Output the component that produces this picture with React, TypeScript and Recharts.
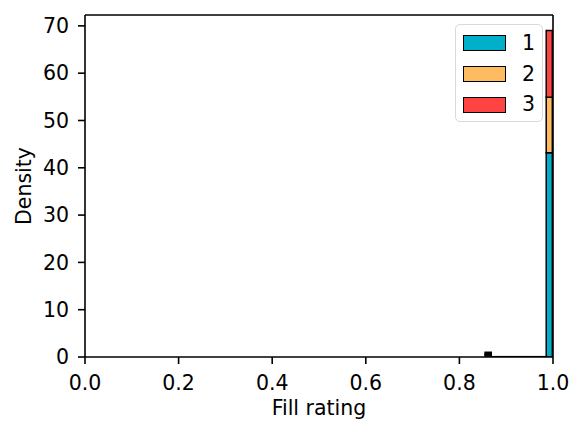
import { Bar, BarChart, ReferenceLine, XAxis, YAxis } from "recharts";

// histogram bins (centres), 10 bins between 0.855 and 1.0
const binCenters = [
  0.86225, 0.87675, 0.89125, 0.90575, 0.92025, 0.93475, 0.94925, 0.96375,
  0.97825, 0.99275,
];
const series1 = [0.4, 0.03, 0.03, 0.03, 0.03, 0.03, 0.03, 0.03, 0.03, 43.2];
const series2 = [0.3, 0.02, 0.02, 0.02, 0.02, 0.02, 0.02, 0.02, 0.02, 11.7];
const series3 = [0.3, 0.02, 0.02, 0.02, 0.02, 0.02, 0.02, 0.02, 0.02, 14.1];

const seriesNames = ["1", "2", "3"];
const xTicks = [0, 0.2, 0.4, 0.6, 0.8, 1.0];
const yTicks = [0, 10, 20, 30, 40, 50, 60, 70];
const Y_MAX = 72.3;

const COLORS = ["#00b0ca", "#ffbb5f", "#ff4242"];
const FONT = "DejaVu Sans";
const FS = 20.5;

const data = binCenters.map((x, i) => ({
  x,
  s1: series1[i],
  s2: series2[i],
  s3: series3[i],
}));

function HistLegend() {
  return (
    <div
      style={{
        position: "absolute",
        left: 455,
        top: 24,
        width: 88,
        height: 98,
        border: "1.5px solid #d9d9d9",
        borderRadius: 5,
        background: "rgba(255,255,255,0.8)",
        boxSizing: "border-box",
        paddingTop: 3,
      }}
    >
      {seriesNames.map((name, i) => (
        <div
          key={name}
          style={{ display: "flex", alignItems: "center", height: 30.7 }}
        >
          <div
            style={{
              marginLeft: 7,
              width: 43,
              height: 16,
              background: COLORS[i],
              border: "1.6px solid #000",
              boxSizing: "border-box",
            }}
          />
          <span
            style={{
              marginLeft: 16,
              fontFamily: FONT,
              fontSize: FS,
              lineHeight: 1,
              color: "#000",
            }}
          >
            {name}
          </span>
        </div>
      ))}
    </div>
  );
}

export default function App() {
  const axisLine = { stroke: "#000", strokeWidth: 1.6 };
  const tick = { fill: "#000", fontSize: FS, fontFamily: FONT };
  return (
    <div
      style={{
        position: "absolute",
        left: 0,
        top: 0,
        width: 585,
        height: 435,
        background: "#fff",
      }}
    >
      <BarChart
        width={585}
        height={435}
        data={data}
        margin={{ top: 15, right: 32, bottom: 0, left: 0 }}
      >
        <XAxis
          dataKey="x"
          type="number"
          domain={[0, 1]}
          ticks={xTicks}
          tickFormatter={(v: number) => v.toFixed(1)}
          allowDataOverflow
          axisLine={axisLine}
          tickLine={axisLine}
          tickSize={7}
          tickMargin={11}
          tick={tick}
          height={78}
          label={{
            value: "Fill rating",
            position: "insideBottom",
            offset: 20,
            style: { fill: "#000", fontSize: FS, fontFamily: FONT },
          }}
        />
        <YAxis
          type="number"
          domain={[0, Y_MAX]}
          ticks={yTicks}
          allowDataOverflow
          axisLine={axisLine}
          tickLine={axisLine}
          tickSize={7}
          tickMargin={9}
          tick={tick}
          width={85}
          label={{
            value: "Density",
            angle: -90,
            position: "insideLeft",
            offset: 24,
            style: {
              fill: "#000",
              fontSize: FS,
              fontFamily: FONT,
              textAnchor: "middle",
            },
          }}
        />
        {["s1", "s2", "s3"].map((key, i) => (
          <Bar
            key={key}
            dataKey={key}
            name={seriesNames[i]}
            stackId="h"
            fill={COLORS[i]}
            stroke="#000"
            strokeWidth={1.5}
            barSize={7}
            isAnimationActive={false}
          />
        ))}
        {/* top and right spines */}
        <ReferenceLine y={Y_MAX} stroke="#000" strokeWidth={1.6} ifOverflow="visible" />
        <ReferenceLine x={1} stroke="#000" strokeWidth={1.6} ifOverflow="visible" />
      </BarChart>
      <HistLegend />
    </div>
  );
}
